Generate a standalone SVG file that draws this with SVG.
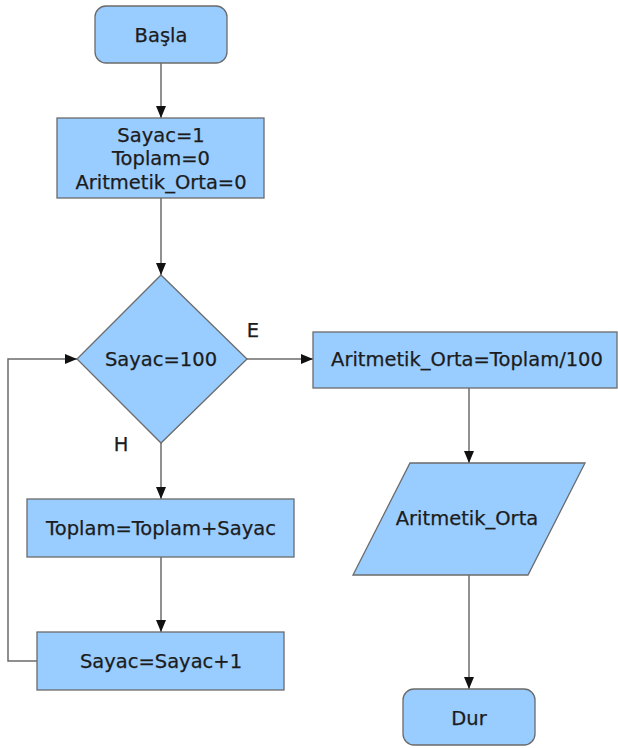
<svg xmlns="http://www.w3.org/2000/svg" width="618" height="748" viewBox="0 0 618 748">
<defs>
<marker id="ah" markerWidth="12" markerHeight="12" refX="12" refY="6" orient="auto" markerUnits="userSpaceOnUse">
<path d="M0,1 L12,6 L0,11 Z" fill="#111"/>
</marker>
<style>
.n{fill:#99ccff;stroke:#6b6b6b;stroke-width:1.3}
.t{font-family:"DejaVu Sans",Verdana,sans-serif;font-size:19.5px;fill:#1c1c1c;stroke:#1c1c1c;stroke-width:0.25;text-anchor:middle}
.c{fill:none;stroke:#6b6b6b;stroke-width:1.5;marker-end:url(#ah)}
</style>
</defs>
<rect width="618" height="748" fill="#fff"/>
<g id="connectors">
<path class="c" d="M161,63 V118"/>
<path class="c" d="M161,198 V275"/>
<path class="c" d="M247,359 H313"/>
<path class="c" d="M161,443 V499"/>
<path class="c" d="M161,557 V632"/>
<path class="c" d="M37,661 H8 V359 H77"/>
<path class="c" d="M469,388 V463"/>
<path class="c" d="M469,575 V689"/>
<text class="t" x="253" y="337">E</text>
<text class="t" x="121" y="451">H</text>
</g>
<g id="basla">
<rect class="n" x="95" y="6" width="132" height="57" rx="11"/>
<text class="t" x="161" y="42">Başla</text>
</g>
<g id="init">
<rect class="n" x="57" y="118" width="207" height="80"/>
<text class="t" x="161" y="142">Sayac=1</text>
<text class="t" x="161" y="165">Toplam=0</text>
<text class="t" x="161" y="189">Aritmetik_Orta=0</text>
</g>
<g id="decision">
<path class="n" d="M161,275 L247,359 L161,443 L77,359 Z"/>
<text class="t" x="161" y="366">Sayac=100</text>
</g>
<g id="ortalama">
<rect class="n" x="313" y="332" width="304" height="56"/>
<text class="t" x="467" y="366">Aritmetik_Orta=Toplam/100</text>
</g>
<g id="toplam">
<rect class="n" x="27" y="499" width="267" height="58"/>
<text class="t" x="161" y="535">Toplam=Toplam+Sayac</text>
</g>
<g id="sayac">
<rect class="n" x="37" y="632" width="247" height="58"/>
<text class="t" x="161" y="668">Sayac=Sayac+1</text>
</g>
<g id="cikti">
<path class="n" d="M410,463 L585,463 L528,575 L353,575 Z"/>
<text class="t" x="467" y="525">Aritmetik_Orta</text>
</g>
<g id="dur">
<rect class="n" x="403" y="689" width="132" height="56" rx="11"/>
<text class="t" x="469" y="725">Dur</text>
</g>
</svg>
